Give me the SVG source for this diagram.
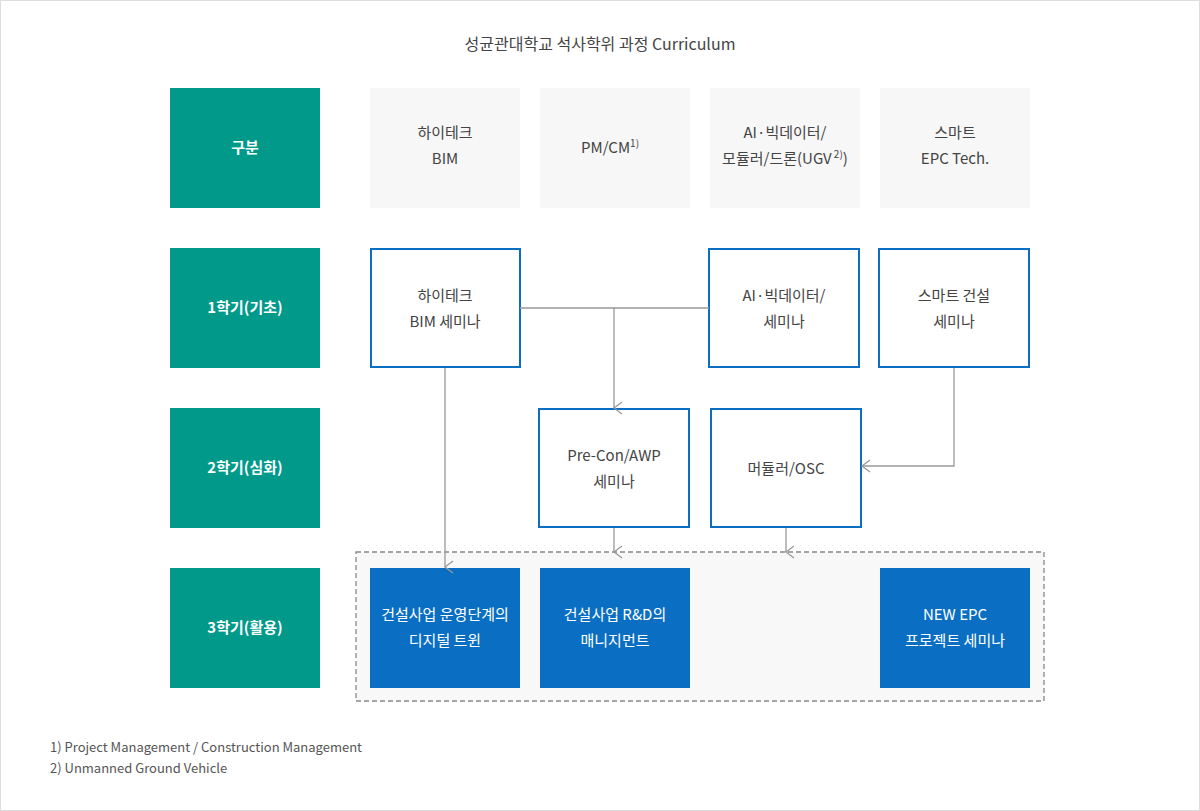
<svg xmlns="http://www.w3.org/2000/svg" width="1200" height="811" viewBox="0 0 1200 811">
<style>
text{font-family:"Noto Sans CJK KR","Noto Sans",sans-serif;font-size:15px;text-anchor:middle;fill:#444}
.lab rect{fill:#00998a}
.lab text{fill:#fff;font-weight:bold}
.hd rect{fill:#f7f7f7}
.ob rect{fill:#fff;stroke:#0a6fc2;stroke-width:2}
.fb rect{fill:#0a6fc2}
.fb text{fill:#fff}
.ln{fill:none;stroke:#999;stroke-width:1.3}
.ft{font-size:13px;text-anchor:start;fill:#555}
sup{font-size:10px}
</style>
<defs><marker id="a" viewBox="0 0 14 10" refX="7" refY="9" markerWidth="14" markerHeight="10" markerUnits="userSpaceOnUse" orient="auto-start-reverse"><path d="M1,1 L7,9 L13,1" fill="none" stroke="#999" stroke-width="1.3" transform="rotate(0)"/></marker>
<marker id="b" viewBox="0 0 10 14" refX="1" refY="7" markerWidth="10" markerHeight="14" markerUnits="userSpaceOnUse"><path d="M9,1 L1,7 L9,13" fill="none" stroke="#999" stroke-width="1.3"/></marker></defs>
<rect x="0.5" y="0.5" width="1199" height="810" fill="#fff" stroke="#ddd"/>
<text x="600" y="50" style="font-size:16px">성균관대학교 석사학위 과정 Curriculum</text>
<rect x="356" y="552" width="688" height="149" fill="#f8f8f8" stroke="#888" stroke-dasharray="5,3" stroke-width="1.3"/>
<g class="lab"><g id="l0"><rect x="170" y="88" width="150" height="120"/><text x="245" y="153">구분</text></g>
<g id="l1"><rect x="170" y="248" width="150" height="120"/><text x="245" y="313">1학기(기초)</text></g>
<g id="l2"><rect x="170" y="408" width="150" height="120"/><text x="245" y="473">2학기(심화)</text></g>
<g id="l3"><rect x="170" y="568" width="150" height="120"/><text x="245" y="633">3학기(활용)</text></g></g>
<g class="hd"><g id="h1"><rect x="370" y="88" width="150" height="120"/><text x="445" y="138">하이테크</text><text x="445" y="164">BIM</text></g>
<g id="h2"><rect x="540" y="88" width="150" height="120"/><text x="610" y="153">PM/CM<tspan font-size="10" dy="-6">1)</tspan></text></g>
<g id="h3"><rect x="710" y="88" width="150" height="120"/><text x="785" y="138">AI·빅데이터/</text><text x="785" y="164">모듈러/드론(UGV<tspan font-size="10" dy="-6"> 2)</tspan><tspan dy="6">)</tspan></text></g>
<g id="h4"><rect x="880" y="88" width="150" height="120"/><text x="955" y="138">스마트</text><text x="955" y="164">EPC Tech.</text></g></g>
<g class="ob"><g id="s1a"><rect x="371" y="249" width="149" height="118"/><text x="445" y="301">하이테크</text><text x="445" y="327">BIM 세미나</text></g>
<g id="s1b"><rect x="709" y="249" width="150" height="118"/><text x="784" y="301">AI·빅데이터/</text><text x="784" y="327">세미나</text></g>
<g id="s1c"><rect x="879" y="249" width="150" height="118"/><text x="954" y="301">스마트 건설</text><text x="954" y="327">세미나</text></g>
<g id="s2a"><rect x="539" y="409" width="150" height="118"/><text x="614" y="461">Pre-Con/AWP</text><text x="614" y="487">세미나</text></g>
<g id="s2b"><rect x="711" y="409" width="150" height="118"/><text x="786" y="474">머듈러/OSC</text></g></g>
<g class="fb"><g id="s3a"><rect x="370" y="568" width="150" height="120"/><text x="445" y="620">건설사업 운영단계의</text><text x="445" y="646">디지털 트윈</text></g>
<g id="s3b"><rect x="540" y="568" width="150" height="120"/><text x="615" y="620">건설사업 R&amp;D의</text><text x="615" y="646">매니지먼트</text></g>
<g id="s3c"><rect x="880" y="568" width="150" height="120"/><text x="955" y="620">NEW EPC</text><text x="955" y="646">프로젝트 세미나</text></g></g>
<g id="connectors">
<path class="ln" d="M520,308 H709"/>
<path class="ln" d="M614,308 V408" marker-end="url(#a)"/>
<path class="ln" d="M445,368 V567" marker-end="url(#a)"/>
<path class="ln" d="M614,528 V552" marker-end="url(#a)"/>
<path class="ln" d="M786,528 V552" marker-end="url(#a)"/>
<path class="ln" d="M954,368 V466 H862" marker-end="url(#b)"/>
</g>
<text class="ft" x="50" y="752">1) Project Management / Construction Management</text>
<text class="ft" x="50" y="773">2) Unmanned Ground Vehicle</text>
</svg>
